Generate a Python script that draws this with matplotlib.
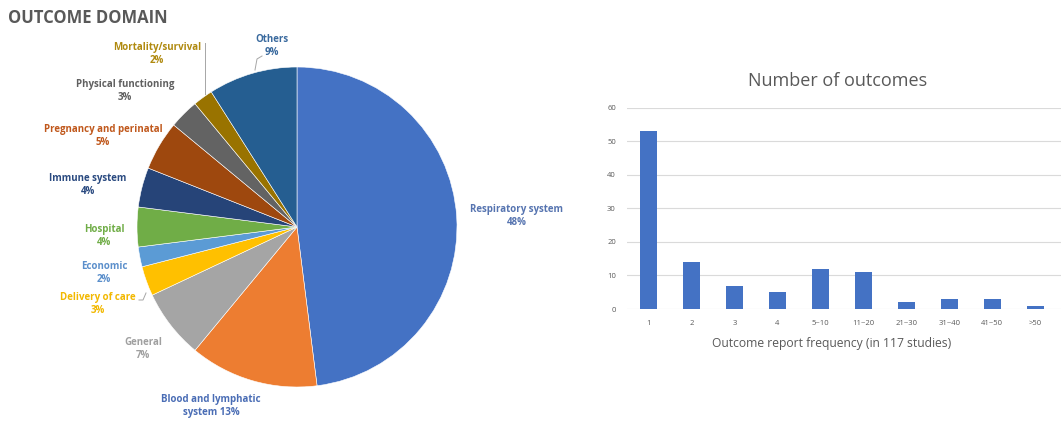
import matplotlib
matplotlib.use("Agg")
import matplotlib.pyplot as plt

W, H = 1061, 426

# ---- data ----
domain_names = ["Respiratory system", "Blood and lymphatic\nsystem", "General",
                "Delivery of care", "Economic", "Hospital", "Immune system",
                "Pregnancy and perinatal", "Physical functioning",
                "Mortality/survival", "Others"]
domain_pct = [48, 13, 7, 3, 2, 4, 4, 5, 3, 2, 9]
domain_colors = ["#4472C4", "#ED7D31", "#A5A5A5", "#FFC000", "#5B9BD5",
                 "#70AD47", "#264478", "#9E480E", "#636363", "#997300", "#255E91"]
label_colors = ["#5674B0", "#4A6DB5", "#A0A0A0", "#F2B800", "#5B8FCB",
                "#70AD47", "#2A4A80", "#C0581C", "#606060", "#B08A10", "#3A6A9E"]

freq_labels = ["1", "2", "3", "4", "5~10", "11~20", "21~30", "31~40", "41~50", ">50"]
outcome_counts = [53, 14, 7, 5, 12, 11, 2, 3, 3, 1]

FONT = "Open Sans"
GREY = "#595959"

fig = plt.figure(figsize=(W / 100, H / 100), dpi=100)
fig.patch.set_facecolor("white")

# ---- pie (pixel coordinate axes) ----
ax0 = fig.add_axes([0, 0, 1, 1])
ax0.set_xlim(0, W)
ax0.set_ylim(0, H)
ax0.axis("off")

def py(y):
    return H - y

ax0.pie(domain_pct, colors=domain_colors, startangle=90, counterclock=False,
        center=(297, py(227)), radius=160,
        wedgeprops=dict(edgecolor="white", linewidth=0.4))
ax0.set_xlim(0, W)
ax0.set_ylim(0, H)
ax0.set_aspect("auto")

label_pos = [(517, 216), (211, 406), (143, 349), (98, 304), (104, 273),
             (104, 236), (88, 185), (103, 136), (125, 91), (157, 54), (272, 46)]
for name, v, c, (x, y) in zip(domain_names, domain_pct, label_colors, label_pos):
    sep = " " if "\n" in name else "\n"
    ax0.text(x, py(y), f"{name}{sep}{v}%", color=c, fontsize=7, fontweight="bold",
             family=FONT, ha="center", va="center", linespacing=1.25)

# leader lines
ax0.plot([205, 205], [py(43), py(94)], color="#A6A6A6", lw=0.7)
ax0.plot([255, 257, 262], [py(70), py(59), py(56)], color="#A6A6A6", lw=0.7)
ax0.plot([139, 143, 146], [py(300), py(300), py(293)], color="#A6A6A6", lw=0.7)

fig.text(8 / W, 1 - 18 / H, "OUTCOME DOMAIN", fontsize=12, fontweight="bold",
         color=GREY, family=FONT, ha="left", va="center")

# ---- bar chart ----
left, right, top, bottom = 627, 1061, 107.7, 309
ax = fig.add_axes([left / W, (H - bottom) / H, (right - left) / W, (bottom - top) / H])
x = range(len(freq_labels))
ax.bar(x, outcome_counts, width=0.4, color="#4472C4", zorder=3)
ax.set_xlim(-0.5, len(freq_labels) - 0.5 + 0.1)
ax.set_ylim(0, 60)
ax.set_yticks(range(0, 61, 10))
ax.set_xticks(list(x))
ax.set_xticklabels(freq_labels)
for s in ax.spines.values():
    s.set_visible(False)
ax.grid(axis="y", color="#DADADA", lw=0.8, zorder=0)
ax.tick_params(length=0, labelsize=5.5, labelcolor=GREY, pad=8)
ax.tick_params(axis="x", pad=8)
for lab in ax.get_xticklabels() + ax.get_yticklabels():
    lab.set_family(FONT)
ax.set_facecolor("none")

fig.text(838 / W, 1 - 81 / H, "Number of outcomes", fontsize=13, color=GREY,
         family=FONT, ha="center", va="center")
fig.text(832 / W, 1 - 343 / H, "Outcome report frequency (in 117 studies)", fontsize=8.7,
         color=GREY, family=FONT, ha="center", va="center")

fig.savefig("out.png", dpi=100)
